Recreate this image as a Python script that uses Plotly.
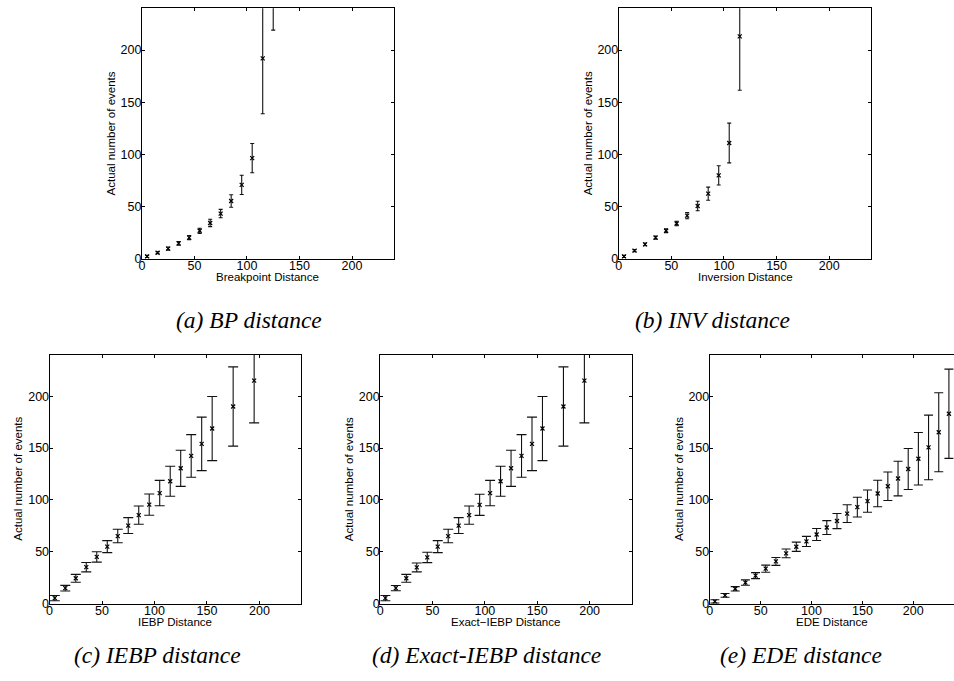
import plotly.graph_objects as go

# ---------------- data ----------------
# (a) Breakpoint distance
bp_x = [5, 15, 25, 35, 45, 55, 65, 75, 85, 95, 105, 115, 125]
bp_y = [2.5, 6, 10, 15, 20.5, 27, 34.5, 43.5, 55.5, 71, 96.5, 192, 270]
bp_err = [1, 1, 1.5, 1.8, 2, 2.5, 3.5, 4, 6, 9.2, 14, 53, 51]

# (b) Inversion distance
inv_x = [5, 15, 25, 35, 45, 55, 65, 75, 85, 95, 105, 115]
inv_y = [2.5, 8, 14, 20.5, 27, 34, 41.5, 50.7, 62.5, 80, 111, 213]
inv_err = [1, 1, 1.3, 1.5, 1.8, 2.2, 3, 4.5, 6.3, 9.2, 19, 51.5]

# (c) IEBP distance
iebp_x = [5, 15, 25, 35, 45, 55, 65, 75, 85, 95, 105, 115, 125, 135, 145, 155, 175, 195]
iebp_y = [5.4, 15, 24.5, 35.2, 45.1, 55, 65.2, 75.3, 85.4, 95.5, 106.6, 118, 130.5, 142.4, 154, 168.8, 190, 215]
iebp_err = [2.5, 2.7, 3.8, 4.5, 5, 5.8, 6.5, 7.7, 8.8, 10.2, 12.2, 14.4, 17.4, 20.5, 25.8, 30.9, 38.2, 40.8]

# (d) Exact-IEBP distance
eiebp_x = [5, 15, 25, 35, 45, 55, 65, 75, 85, 95, 105, 115, 125, 135, 145, 155, 175, 195]
eiebp_y = [5.4, 15, 24.5, 35, 44.6, 55, 65.2, 75.3, 85.4, 95.3, 106.6, 118, 130.5, 142.4, 154, 168.8, 190, 215]
eiebp_err = [2.5, 2.5, 3.8, 4.3, 5, 5.8, 6.5, 7.7, 8.8, 10.2, 12.2, 14.4, 17.4, 20.5, 25.8, 30.9, 38.2, 40.8]

# (e) EDE distance
ede_x = [5, 15, 25, 35, 45, 55, 65, 75, 85, 95, 105, 115, 125, 135, 145, 155, 165, 175, 185, 195, 205, 215, 225, 235]
ede_y = [2.2, 8, 14.4, 20.4, 27.1, 33.8, 40.8, 48.5, 54.9, 60, 66.7, 73.4, 79.7, 86.8, 93.1, 98.9,
         106.2, 113.2, 120.6, 129.8, 139.7, 150.6, 165.2, 183]
ede_err = [1.6, 1.8, 2.1, 2.6, 2.9, 3.4, 3.8, 4.2, 4.5, 4.9, 5.8, 6.7, 7.3, 8.6, 9.5, 10.7,
           12.7, 13.7, 16.7, 19.8, 25.3, 31.1, 38, 43]

x_titles = ["Breakpoint Distance", "Inversion Distance", "IEBP Distance",
            "Exact\u2212IEBP Distance", "EDE Distance"]
y_title = "Actual number of events"
captions = ["(a) BP distance", "(b) INV distance", "(c) IEBP distance",
            "(d) Exact-IEBP distance", "(e) EDE distance"]
tick_vals = [0, 50, 100, 150, 200]

# ---------------- layout helpers ----------------
W, H = 954, 681
panels = [
    dict(x=bp_x, y=bp_y, e=bp_err, px=(139.3, 392.3), py=(8.3, 261.7), cap=2),
    dict(x=inv_x, y=inv_y, e=inv_err, px=(617.7, 871.0), py=(8.3, 261.7), cap=2),
    dict(x=iebp_x, y=iebp_y, e=iebp_err, px=(46.7, 299.3), py=(358.3, 610.0), cap=5),
    dict(x=eiebp_x, y=eiebp_y, e=eiebp_err, px=(378.3, 630.5), py=(358.3, 610.0), cap=5),
    dict(x=ede_x, y=ede_y, e=ede_err, px=(709.0, 954.0), py=(358.3, 610.0), cap=4.5),
]
cap_pos = [(246.5, 323), (712, 323), (155, 662), (485.5, 662), (801, 662)]

tick_font = dict(family="Liberation Sans, Arial, sans-serif", size=12.5, color="black")
title_font = dict(family="Liberation Sans, Arial, sans-serif", size=11.5, color="black")
cap_font = dict(family="Liberation Serif, Times New Roman, serif", size=23.5, color="black")

fig = go.Figure()
layout = dict(
    width=W, height=H,
    margin=dict(l=0, r=0, t=0, b=0),
    paper_bgcolor="white", plot_bgcolor="white",
    showlegend=False,
)
annotations = []

for i, p in enumerate(panels):
    n = "" if i == 0 else str(i + 1)
    xa, ya = "x" + n, "y" + n
    fig.add_trace(go.Scatter(
        x=p["x"], y=p["y"], xaxis=xa, yaxis=ya, mode="markers",
        marker=dict(symbol="x-thin", size=4, color="black", line=dict(width=1.2, color="black")),
        error_y=dict(type="data", array=p["e"], color="#111111", thickness=1.1, width=p["cap"]),
        cliponaxis=True,
    ))
    last = i == 4
    layout["xaxis" + n] = dict(
        domain=[p["px"][0] / W, p["px"][1] / W], anchor=ya, range=[0, 240],
        tickvals=tick_vals, ticks="inside", ticklen=3, tickcolor="black",
        showline=True, linecolor="black", linewidth=1, mirror="ticks",
        showgrid=False, zeroline=False, tickfont=tick_font, fixedrange=True,
        ticklabelstandoff=-5,
    )
    layout["yaxis" + n] = dict(
        domain=[1 - p["py"][1] / H, 1 - p["py"][0] / H], anchor=xa, range=[0, 240],
        tickvals=tick_vals, ticks="inside", ticklen=3, tickcolor="black",
        showline=True, linecolor="black", linewidth=1,
        mirror=False if last else "ticks",
        showgrid=False, zeroline=False, tickfont=tick_font, fixedrange=True,
        ticklabelstandoff=-3,
    )
    annotations.append(dict(
        text=x_titles[i], xref=xa + " domain", yref=ya + " domain", x=0.5, y=0,
        xanchor="center", yanchor="top", yshift=-10, showarrow=False, font=title_font,
    ))
    annotations.append(dict(
        text=y_title, xref=xa + " domain", yref=ya + " domain", x=0, y=0.5,
        xanchor="center", yanchor="middle", xshift=-31, textangle=-90,
        showarrow=False, font=title_font,
    ))
    cx, cy = cap_pos[i]
    annotations.append(dict(
        text="<i>" + captions[i] + "</i>", xref="paper", yref="paper",
        x=cx / W, y=1 - cy / H, xanchor="center", yanchor="middle",
        showarrow=False, font=cap_font,
    ))

layout["annotations"] = annotations
fig.update_layout(**layout)
fig.write_html(
    "out.html",
    config={"displayModeBar": False},
    post_script="document.body.style.margin='0px';document.body.style.overflow='hidden';",
)
